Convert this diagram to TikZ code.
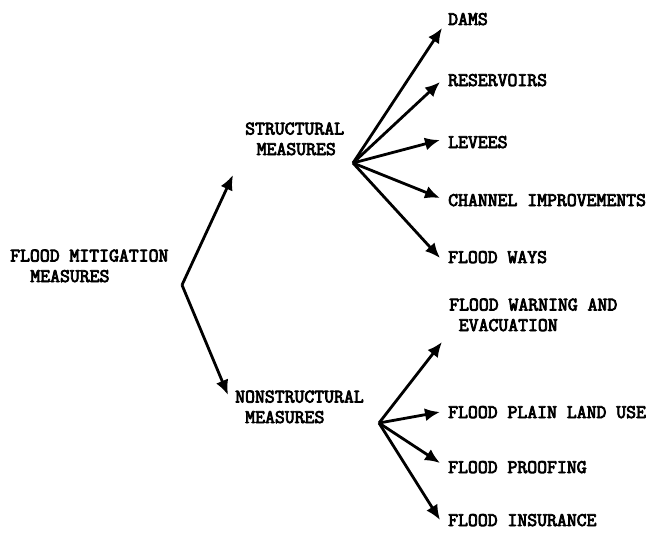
\documentclass[tikz,border=0pt]{standalone}
\usepackage{fontspec}
\newfontfamily\labelfont{Latin Modern Mono}[FakeBold=4]
\usetikzlibrary{arrows.meta}
\begin{document}
\begin{tikzpicture}[x=1pt,y=-1pt,
  lbl/.style={anchor=base west,inner sep=0pt,align=left,
    font=\labelfont\fontsize{19.2}{20.5}\selectfont},
  arr/.style={line width=2.8pt,-{Latex[length=15pt,width=13pt]}}]
\useasboundingbox (0,0) rectangle (652,535);
% labels
\node[lbl] (root) at (10,282) {FLOOD MITIGATION\\\hspace*{1.05em}MEASURES};
\node[lbl] (str) at (245,155) {STRUCTURAL\\\hspace*{0.6em}MEASURES};
\node[lbl] (non) at (235,423) {NONSTRUCTURAL\\\hspace*{0.525em}MEASURES};
\node[lbl] (dams) at (448,25) {DAMS};
\node[lbl] (res) at (448,86) {RESERVOIRS};
\node[lbl] (lev) at (448,148) {LEVEES};
\node[lbl] (chan) at (448,206) {CHANNEL IMPROVEMENTS};
\node[lbl] (ways) at (448,263) {FLOOD WAYS};
\node[lbl] (warn) at (449,331) {FLOOD WARNING AND\\\hspace*{0.5em}EVACUATION};
\node[lbl] (plain) at (448,418) {FLOOD PLAIN LAND USE};
\node[lbl] (proof) at (448,473) {FLOOD PROOFING};
\node[lbl] (ins) at (448,526) {FLOOD INSURANCE};
% branch points
\coordinate (v0) at (182,285);
\coordinate (vs) at (353,163);
\coordinate (vn) at (379,423);
% connectors
\draw[arr] (v0) -- ([shift={(-12,20)}]str.base west);
\draw[arr] (v0) -- ([shift={(-7,-28)}]non.base west);
\draw[arr] (vs) -- ([shift={(-6,3)}]dams.base west);
\draw[arr] (vs) -- ([shift={(-8,-4)}]res.base west);
\draw[arr] (vs) -- ([shift={(-8,-8)}]lev.base west);
\draw[arr] (vs) -- ([shift={(-8,-8)}]chan.base west);
\draw[arr] (vs) -- ([shift={(-8,-5)}]ways.base west);
\draw[arr] (vn) -- ([shift={(-7,11)}]warn.base west);
\draw[arr] (vn) -- ([shift={(-8,-6)}]plain.base west);
\draw[arr] (vn) -- ([shift={(-8,-10)}]proof.base west);
\draw[arr] (vn) -- ([shift={(-8,-6)}]ins.base west);
\end{tikzpicture}
\end{document}
